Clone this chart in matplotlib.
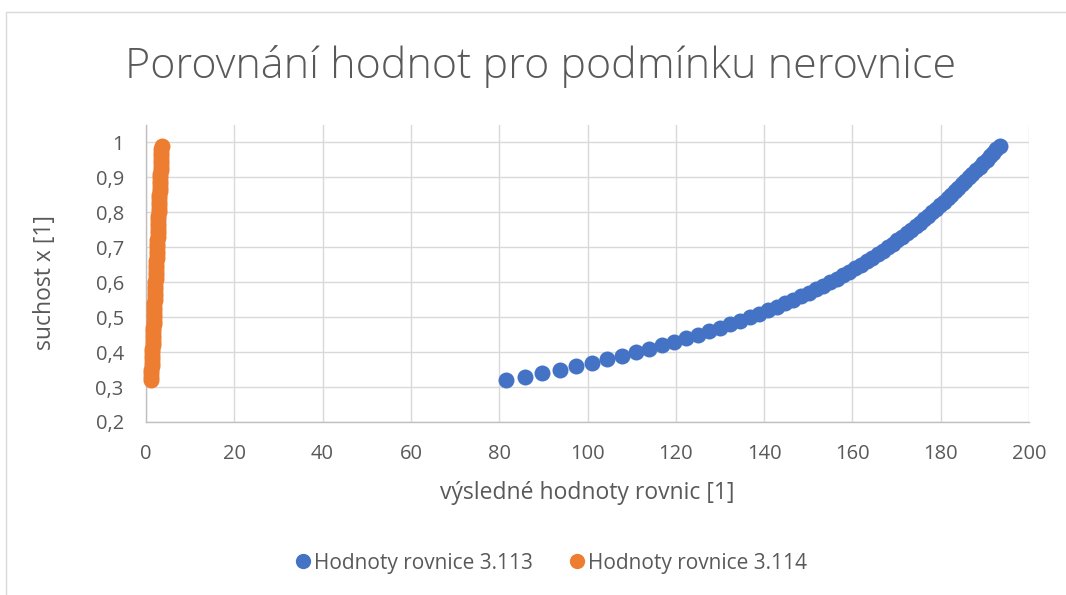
import matplotlib
matplotlib.use("Agg")
import matplotlib.pyplot as plt
from matplotlib.lines import Line2D
from matplotlib.patches import Rectangle

plt.rcParams['font.family'] = ['Open Sans', 'DejaVu Sans']

# y values (suchost x) shared by both series
suchost = [0.32, 0.33, 0.34, 0.35, 0.36, 0.37, 0.38, 0.39, 0.40, 0.41,
           0.42, 0.43, 0.44, 0.45, 0.46, 0.47, 0.48, 0.49, 0.50, 0.51,
           0.52, 0.53, 0.54, 0.55, 0.56, 0.57, 0.58, 0.59, 0.60, 0.61,
           0.62, 0.63, 0.64, 0.65, 0.66, 0.67, 0.68, 0.69, 0.70, 0.71,
           0.72, 0.73, 0.74, 0.75, 0.76, 0.77, 0.78, 0.79, 0.80, 0.81,
           0.82, 0.83, 0.84, 0.85, 0.86, 0.87, 0.88, 0.89, 0.90, 0.91,
           0.92, 0.93, 0.94, 0.95, 0.96, 0.97, 0.98, 0.99]

rovnice_3113 = [81.5, 85.8, 89.8, 93.7, 97.5, 101.1, 104.5, 107.8, 110.9, 114.0,
                116.9, 119.7, 122.4, 125.0, 127.5, 129.9, 132.3, 134.5, 136.7, 138.8,
                140.9, 142.9, 144.8, 146.6, 148.4, 150.1, 151.8, 153.4, 154.9, 156.4,
                157.9, 159.3, 160.6, 161.9, 163.2, 164.5, 165.7, 166.9, 168.0, 169.1,
                170.2, 171.3, 172.3, 173.3, 174.3, 175.3, 176.3, 177.2, 178.1, 179.0,
                179.9, 180.8, 181.6, 182.4, 183.2, 184.0, 184.8, 185.6, 186.4, 187.2,
                188.0, 188.8, 189.6, 190.4, 191.1, 191.8, 192.5, 193.5]

rovnice_3114 = [1.13, 1.17, 1.20, 1.24, 1.27, 1.31, 1.35, 1.38, 1.42, 1.45,
                1.49, 1.53, 1.56, 1.60, 1.64, 1.67, 1.71, 1.74, 1.78, 1.82,
                1.85, 1.89, 1.92, 1.96, 2.00, 2.03, 2.07, 2.10, 2.14, 2.18,
                2.21, 2.25, 2.29, 2.32, 2.36, 2.39, 2.43, 2.47, 2.50, 2.54,
                2.57, 2.61, 2.65, 2.68, 2.72, 2.75, 2.79, 2.83, 2.86, 2.90,
                2.93, 2.97, 3.01, 3.04, 3.08, 3.11, 3.15, 3.19, 3.22, 3.26,
                3.30, 3.33, 3.37, 3.40, 3.44, 3.48, 3.51, 3.55]

x_ticks = [0, 20, 40, 60, 80, 100, 120, 140, 160, 180, 200]
y_ticks = [0.2, 0.3, 0.4, 0.5, 0.6, 0.7, 0.8, 0.9, 1.0]
y_tick_labels = ['0,2', '0,3', '0,4', '0,5', '0,6', '0,7', '0,8', '0,9', '1']

series_names = ['Hodnoty rovnice 3.113', 'Hodnoty rovnice 3.114']
colors = ['#4472C4', '#ED7D31']
text_color = '#595959'
grid_color = '#D9D9D9'

W, H = 1066, 595
fig = plt.figure(figsize=(W / 100, H / 100), dpi=100)
fig.patch.set_facecolor('white')

# chart border
fig.patches.append(Rectangle((6 / W, -0.01), 1.02, 1 - 12 / H + 0.01,
                             transform=fig.transFigure, fill=False,
                             edgecolor='#D9D9D9', linewidth=1.0))

ax = fig.add_axes([146 / W, 1 - 422 / H, (1029 - 146) / W, (422 - 125) / H])
ax.set_xlim(0, 200)
ax.set_ylim(0.2, 1.05)
ax.set_xticks(x_ticks)
ax.set_yticks(y_ticks)
ax.set_yticklabels(y_tick_labels)
ax.grid(True, color=grid_color, linewidth=1.0)
ax.set_axisbelow(True)
for s in ['top', 'right']:
    ax.spines[s].set_visible(False)
for s in ['left', 'bottom']:
    ax.spines[s].set_color('#BFBFBF')
    ax.spines[s].set_linewidth(1.0)
ax.tick_params(length=0, labelsize=14.5, labelcolor=text_color)
ax.tick_params(axis='x', pad=16)
ax.tick_params(axis='y', pad=16)

msize = 11.5 ** 2
ax.scatter(rovnice_3113, suchost, s=msize, marker='o', color=colors[0],
           linewidths=0, clip_on=False, zorder=3)
ax.scatter(rovnice_3114, suchost, s=msize, marker='o', color=colors[1],
           linewidths=0, clip_on=False, zorder=3)

fig.text(541 / W, 1 - 66 / H, 'Porovnání hodnot pro podmínku nerovnice',
         ha='center', va='center', fontsize=31, color=text_color, fontweight='light')
fig.text(45 / W, 1 - 282 / H, 'suchost x [1]', rotation=90, ha='center', va='center',
         fontsize=16.5, color=text_color)
fig.text(587 / W, 1 - 493 / H, 'výsledné hodnoty rovnic [1]', ha='center', va='center',
         fontsize=16.5, color=text_color)

handles = [Line2D([], [], linestyle='none', marker='o', markersize=11, color=c,
                  markeredgewidth=0) for c in colors]
leg = fig.legend(handles, series_names, loc='center', bbox_to_anchor=(550 / W, 1 - 563 / H),
                 ncol=2, frameon=False, fontsize=15, handletextpad=0.05,
                 columnspacing=1.6, handlelength=1.0)
for t in leg.get_texts():
    t.set_color(text_color)

fig.savefig('out.png', dpi=100)
